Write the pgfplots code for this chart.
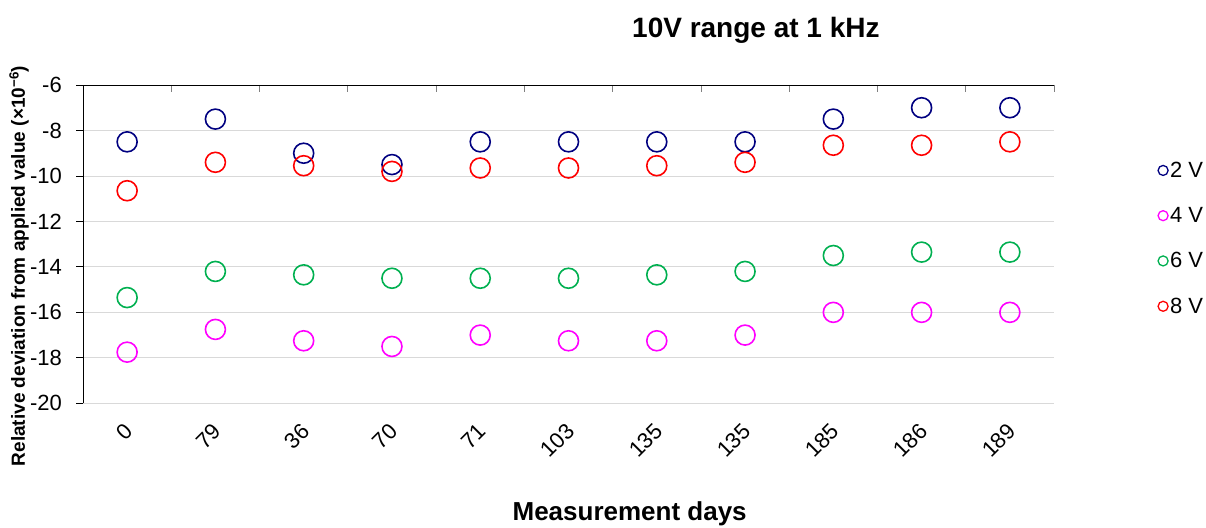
\documentclass[border=0pt]{standalone}
\usepackage{pgfplots}
\pgfplotsset{compat=1.18}
\usepackage{pgfplotstable}
\usepackage{fontspec}
\setmainfont{Liberation Sans}
\definecolor{c2}{HTML}{000080}
\definecolor{c4}{HTML}{FF00FF}
\definecolor{c6}{HTML}{00B050}
\definecolor{c8}{HTML}{FF0000}
\definecolor{gridgray}{HTML}{D9D9D9}
\pgfplotstableread{
x v2 v4 v6 v8
1 -8.5 -17.75 -15.35 -10.65
2 -7.5 -16.75 -14.2 -9.4
3 -9.0 -17.25 -14.35 -9.55
4 -9.5 -17.5 -14.5 -9.8
5 -8.5 -17.0 -14.5 -9.65
6 -8.5 -17.25 -14.5 -9.65
7 -8.5 -17.25 -14.35 -9.55
8 -8.5 -17.0 -14.2 -9.4
9 -7.5 -16.0 -13.5 -8.65
10 -7.0 -16.0 -13.35 -8.65
11 -7.0 -16.0 -13.35 -8.5
}\datatable
\begin{document}
\begin{tikzpicture}[x=1pt,y=1pt]
\path[use as bounding box] (0,0) rectangle (1206,527);
\begin{axis}[
  at={(83pt,123.7pt)}, anchor=south west,
  scale only axis, width=971pt, height=318.3pt,
  xmin=0.5, xmax=11.5, ymin=-20, ymax=-6,
  axis line style={draw=none},
  xtick={1,...,11},
  xticklabels={0,79,36,70,71,103,135,135,185,186,189},
  minor xtick={0.5,1.5,...,11.5},
  xtick pos=upper, xticklabel pos=lower,
  xtick align=inside,
  major x tick style={draw=none},
  minor x tick style={draw=gray, line width=0.8pt},
  minor tick length=7pt,
  major tick length=7pt,
  ytick={-20,-18,...,-6},
  yticklabels={-20,-18,-16,-14,-12,-10,-8,-6},
  ytick pos=left, ytick align=outside,
  major y tick style={draw=black, line width=0.8pt},
  ymajorgrids,
  major grid style={draw=gridgray, line width=0.8pt},
  tick label style={font=\fontsize{22}{26}\selectfont},
  xticklabel style={yshift=-24pt, xshift=2pt, rotate=45, anchor=east, inner sep=0pt},
  yticklabel style={xshift=-14pt, anchor=east, inner sep=0pt},
  title={10V range at 1 kHz},
  title style={at={(axis description cs:0.693,1.154)}, anchor=center, font=\bfseries\fontsize{28}{32}\selectfont},
  xlabel={Measurement days},
  xlabel style={at={(axis description cs:0.563,-0.348)}, anchor=center, inner sep=0pt, font=\bfseries\fontsize{26}{30}\selectfont},
  ylabel={Relative deviation from applied value (×10\textsuperscript{−6})},
  ylabel style={at={(axis description cs:-0.0659,0.4314)}, anchor=center, font=\bfseries\fontsize{19}{22}\selectfont},
  legend image code/.code={\draw[#1, mark size=5pt, line width=1.3pt] plot coordinates {(0pt,0pt)};},
  legend style={at={(axis description cs:1.107,0.765)}, anchor=north west, draw=none, fill=none,
     font=\fontsize{22}{26}\selectfont, row sep=24.5pt, inner sep=0pt,
     /tikz/every even column/.append style={column sep=3pt}},
  legend cell align=left,
  clip=false,
]
\draw[black, line width=0.8pt] (rel axis cs:0,0) -- (rel axis cs:0,1) -- (rel axis cs:1,1);
\addplot[only marks, mark=o, draw=c2, mark size=10pt, line width=1.6pt] table[x=x, y=v2] {\datatable};
\addlegendentry{2 V}
\addplot[only marks, mark=o, draw=c4, mark size=10pt, line width=1.6pt] table[x=x, y=v4] {\datatable};
\addlegendentry{4 V}
\addplot[only marks, mark=o, draw=c6, mark size=10pt, line width=1.6pt] table[x=x, y=v6] {\datatable};
\addlegendentry{6 V}
\addplot[only marks, mark=o, draw=c8, mark size=10pt, line width=1.6pt] table[x=x, y=v8] {\datatable};
\addlegendentry{8 V}
\end{axis}
\end{tikzpicture}
\end{document}
